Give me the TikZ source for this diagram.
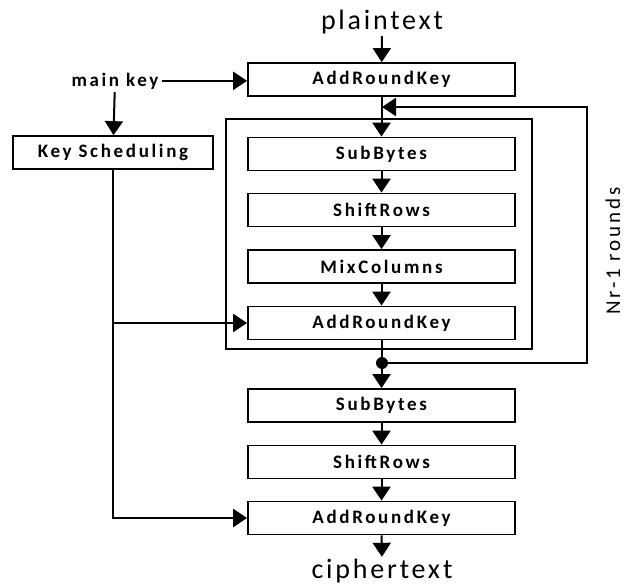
\documentclass[tikz,border=0pt]{standalone}
\usepackage{fontspec}
\setmainfont{Carlito}
\newfontfamily\labfont[LetterSpace=14]{Carlito}
\newfontfamily\bigfont[LetterSpace=10]{Carlito}
\newfontfamily\nrfont[LetterSpace=14]{Carlito}
\usetikzlibrary{arrows.meta}
\begin{document}
\begin{tikzpicture}[x=1pt,y=-1pt,
  box/.style={draw=black, line width=1.7pt, minimum width=267pt, minimum height=33pt, inner sep=0pt,
    font=\labfont\bfseries\fontsize{19}{22}\selectfont},
  arr/.style={line width=2pt, -{Triangle[length=14pt,width=18pt]}},
  lab/.style={font=\labfont\bfseries\fontsize{19}{22}\selectfont, inner sep=3pt},
  big/.style={font=\bigfont\fontsize{28}{32}\selectfont, inner sep=0pt}
]
\useasboundingbox (0,0) rectangle (624,586);
\fill[white] (0,0) rectangle (624,586);

% outer round frame
\draw[line width=1.7pt] (226,119) rectangle (532,349);

% texts
\node[big, anchor=base, text depth=6pt] (plain) at (382,30) {plaintext};
\node[big, anchor=base, text height=21pt, text depth=0pt] (cipher) at (382,578) {ciphertext};
\node[lab, anchor=base] (mk) at (115,86) {main key};
\node[font=\nrfont\fontsize{21}{24}\selectfont, rotate=90, anchor=base, inner sep=0pt] (nr) at (620,251) {Nr-1 rounds};

% boxes
\node[box] (ark1) at (381.5,79.5) {AddRoundKey};
\node[box, minimum width=200pt] (ks) at (113,152.5) {Key Scheduling};
\node[box] (sb1) at (381.5,154) {SubBytes};
\node[box] (sr1) at (381.5,210) {ShiftRows};
\node[box] (mc) at (381.5,266.5) {MixColumns};
\node[box] (ark2) at (381.5,323) {AddRoundKey};
\node[box] (sb2) at (381.5,405.5) {SubBytes};
\node[box] (sr2) at (381.5,462) {ShiftRows};
\node[box] (ark3) at (381.5,518) {AddRoundKey};

% dot and loop coordinates
\fill (382,363) circle (6pt);
\coordinate (dot) at (382,363);
\coordinate (lr) at (587,363);
\coordinate (lt) at (382,107);

% main flow
\draw[arr] (plain) -- (ark1);
\draw[arr] (ark1) -- (sb1);
\draw[arr] (sb1) -- (sr1);
\draw[arr] (sr1) -- (mc);
\draw[arr] (mc) -- (ark2);
\draw[arr] (ark2) -- (sb2);
\draw[arr] (sb2) -- (sr2);
\draw[arr] (sr2) -- (ark3);
\draw[arr] (ark3) -- (cipher);

% feedback loop
\draw[arr] (dot) -- (lr) |- (lt);

% key paths
\draw[arr] (mk.east) -- (mk.east -| ark1.west);
\draw[arr] (mk) -- (ks);
\coordinate (kj) at (ks.south |- ark2.west);
\draw[arr] (kj) -- (ark2.west);
\draw[arr] (ks.south) |- (ark3.west);
\end{tikzpicture}
\end{document}
